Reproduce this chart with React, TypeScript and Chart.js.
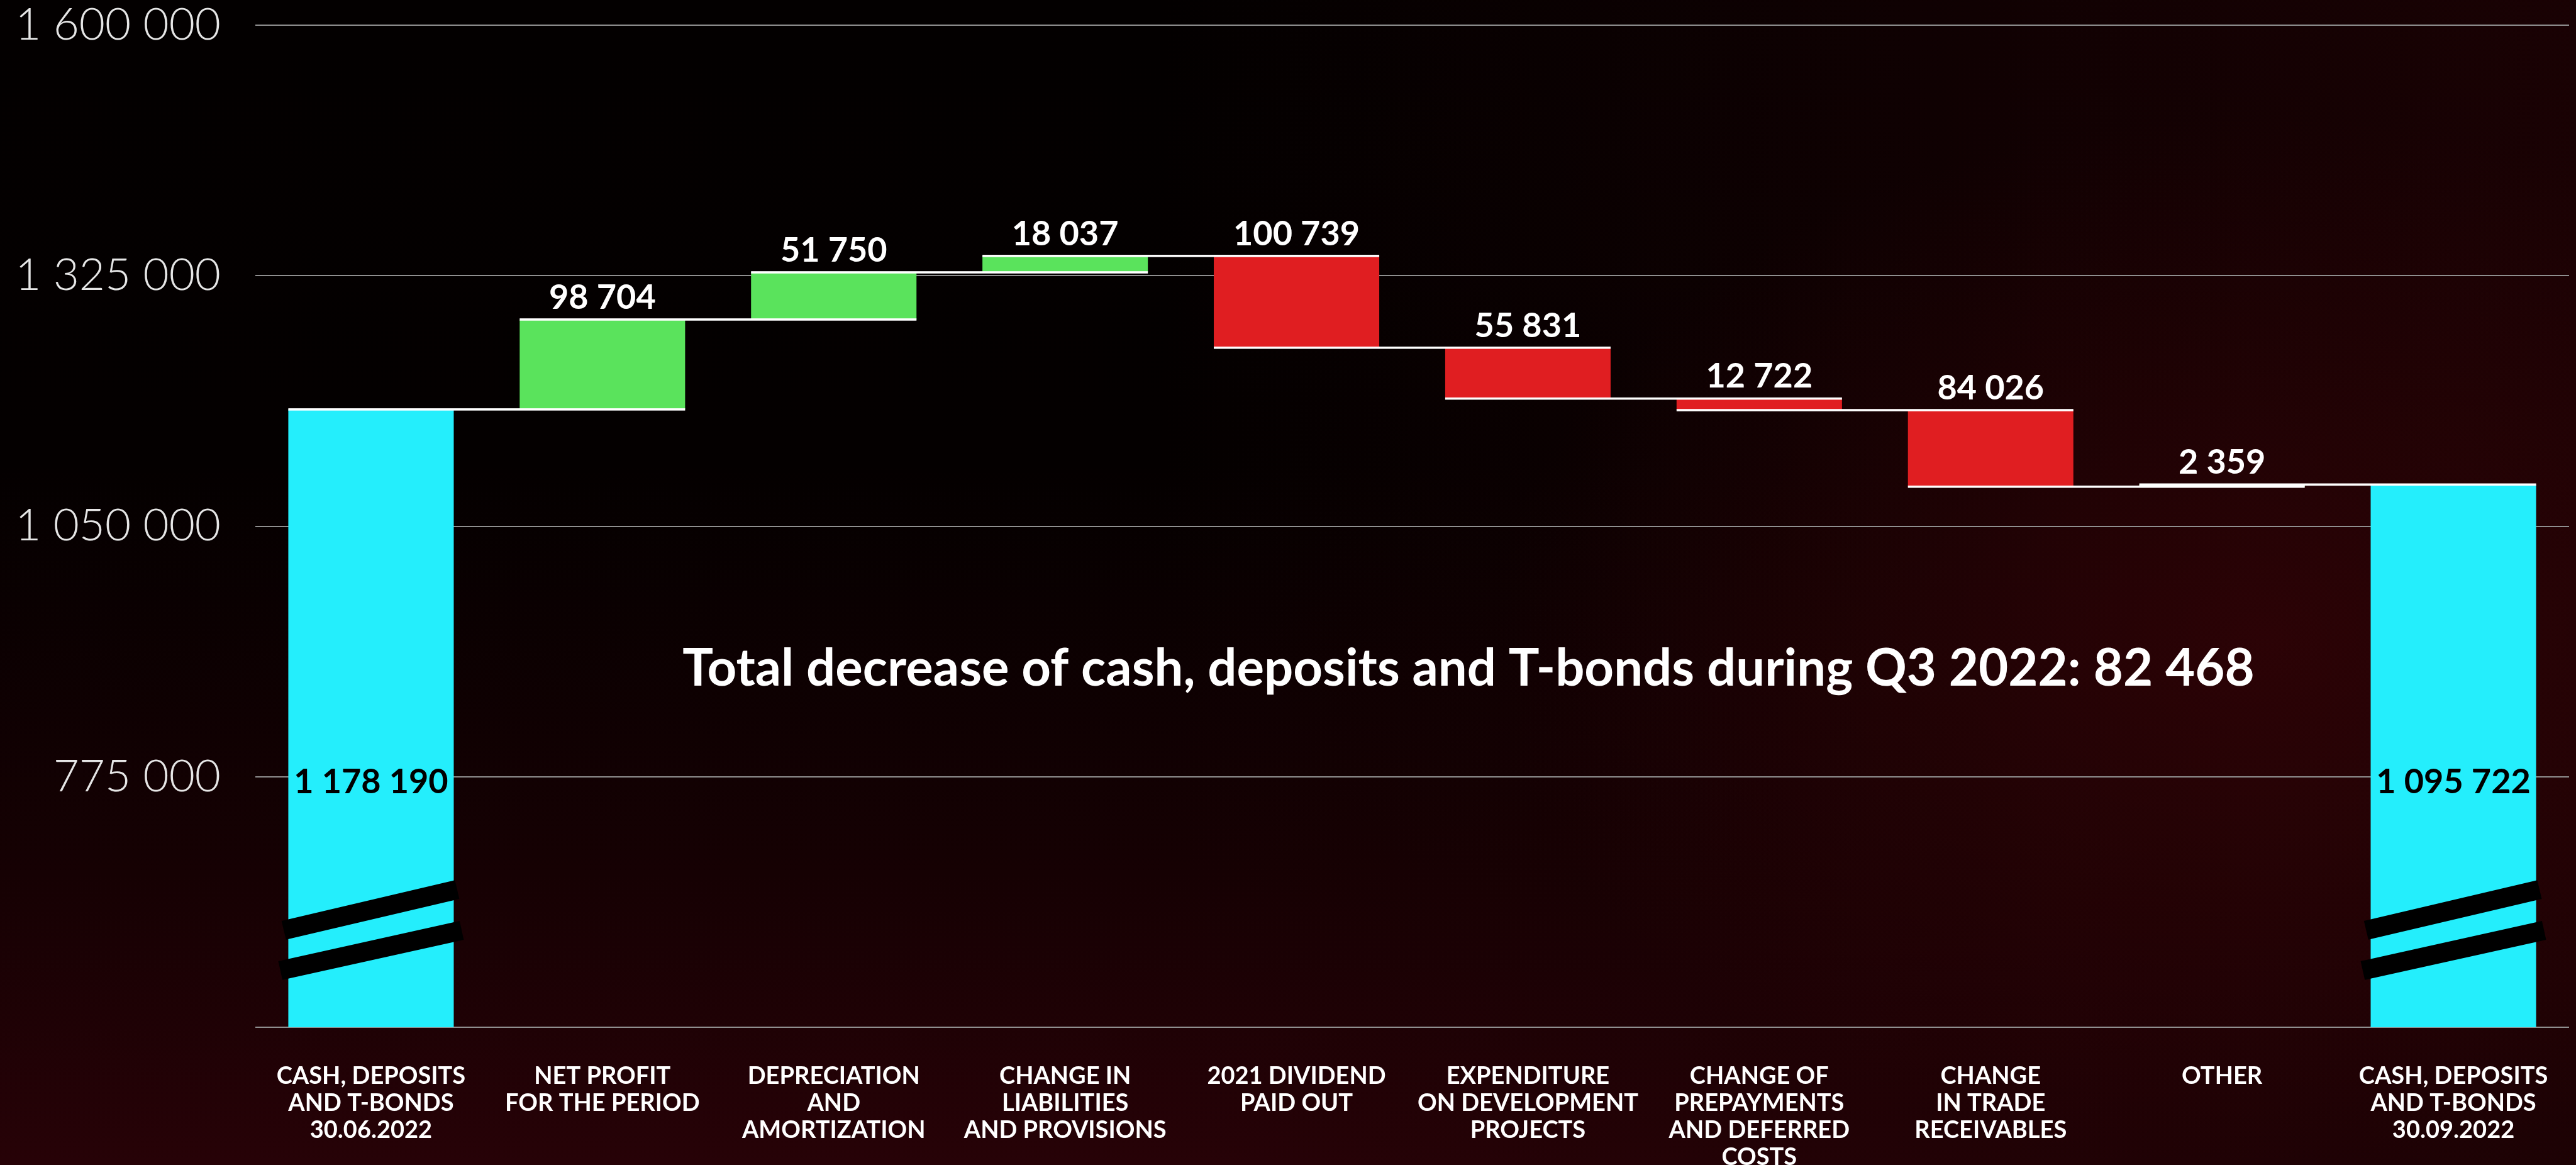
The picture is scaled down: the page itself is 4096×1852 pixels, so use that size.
import React, { useEffect, useRef } from "react";
import { Chart, registerables } from "chart.js";

Chart.register(...registerables);

// ---- data ----
const CATEGORIES: string[][] = [
  ["CASH, DEPOSITS", "AND T-BONDS", "30.06.2022"],
  ["NET PROFIT", "FOR THE PERIOD"],
  ["DEPRECIATION", "AND", "AMORTIZATION"],
  ["CHANGE IN", "LIABILITIES", "AND PROVISIONS"],
  ["2021 DIVIDEND", "PAID OUT"],
  ["EXPENDITURE", "ON DEVELOPMENT", "PROJECTS"],
  ["CHANGE OF", "PREPAYMENTS", "AND DEFERRED", "COSTS"],
  ["CHANGE", "IN TRADE", "RECEIVABLES"],
  ["OTHER"],
  ["CASH, DEPOSITS", "AND T-BONDS", "30.09.2022"],
];
const START_VALUE = 1178190;
const DELTAS = [98704, 51750, 18037, -100739, -55831, -12722, -84026, 2359];
const END_VALUE = 1095722;
const Y_MIN = 500000;
const Y_MAX = 1600000;
const Y_STEP = 275000;
const TOTAL_LABEL_AT = 757000;
const SUMMARY_TEXT = "Total decrease of cash, deposits and T-bonds during Q3 2022: 82 468";

// ---- styling ----
const S = 0.901;
const FONT = "Lato, 'Open Sans', 'Noto Sans', sans-serif";
const CYAN = "#24EEFC";
const GREEN = "#5AE35C";
const RED = "#E01E21";

const fmt = (v: number) =>
  Math.round(Math.abs(v))
    .toString()
    .replace(/\B(?=(\d{3})+(?!\d))/g, " ");

// floating bars built from the values
const levels: number[] = [START_VALUE];
DELTAS.forEach((d) => levels.push(levels[levels.length - 1] + d));
const floating: [number, number][] = [[Y_MIN, START_VALUE]];
DELTAS.forEach((d, i) => floating.push([levels[i], levels[i + 1]]));
floating.push([Y_MIN, END_VALUE]);
const colors = floating.map((_, i) =>
  i === 0 || i === floating.length - 1 ? CYAN : DELTAS[i - 1] >= 0 ? GREEN : RED
);
const labelTexts = [fmt(START_VALUE), ...DELTAS.map(fmt), fmt(END_VALUE)];
const barEnds = floating.map((f) => f[1]);

const overlay = {
  id: "waterfallOverlay",
  afterDatasetsDraw(chart: any) {
    const ctx = chart.ctx;
    const meta = chart.getDatasetMeta(0);
    const ys = chart.scales.y;
    const area = chart.chartArea;
    const els = meta.data;
    const n = els.length;
    ctx.save();
    // connector / level lines
    ctx.fillStyle = "#ffffff";
    const th = 4 * S;
    for (let i = 0; i < n - 1; i++) {
      const a = els[i];
      const b = els[i + 1];
      const y = ys.getPixelForValue(barEnds[i]);
      const x0 = a.x - a.width / 2;
      const x1 = b.x + b.width / 2;
      ctx.fillRect(x0, y - th / 2, x1 - x0, th);
    }
    // break marks on total bars
    ctx.strokeStyle = "#000000";
    ctx.lineWidth = 34 * S;
    ctx.lineCap = "butt";
    [0, n - 1].forEach((i) => {
      const el = els[i];
      const L = el.x - el.width / 2;
      const R = el.x + el.width / 2;
      const bot = area.bottom;
      ctx.beginPath();
      ctx.moveTo(L - 8 * S, bot - 171 * S);
      ctx.lineTo(R + 6 * S, bot - 243 * S);
      ctx.stroke();
      ctx.beginPath();
      ctx.moveTo(L - 14 * S, bot - 100 * S);
      ctx.lineTo(R + 14 * S, bot - 171 * S);
      ctx.stroke();
    });
    // value labels
    ctx.textAlign = "center";
    ctx.textBaseline = "alphabetic";
    ctx.font = `bold ${Math.round(60 * S)}px ${FONT}`;
    for (let i = 0; i < n; i++) {
      const el = els[i];
      if (i === 0 || i === n - 1) {
        ctx.fillStyle = "#000000";
        ctx.fillText(labelTexts[i], el.x, ys.getPixelForValue(TOTAL_LABEL_AT));
      } else {
        ctx.fillStyle = "#ffffff";
        const top = Math.min(el.y, el.base);
        ctx.fillText(labelTexts[i], el.x, top - 19 * S);
      }
    }
    // summary text
    const targetW = 2774 * S;
    let fs = 82 * S;
    ctx.font = `bold ${fs}px ${FONT}`;
    const w = ctx.measureText(SUMMARY_TEXT).width;
    fs = fs * (targetW / w);
    ctx.font = `bold ${fs}px ${FONT}`;
    ctx.fillStyle = "#ffffff";
    ctx.textAlign = "left";
    ctx.fillText(SUMMARY_TEXT, area.left + (1205 - 451) * S, area.top + (1209 - 44) * S);
    ctx.restore();
  },
};

export default function App() {
  const ref = useRef<HTMLCanvasElement | null>(null);
  useEffect(() => {
    document.body.style.margin = "0";
    document.body.style.background = "#000";
    const canvas = ref.current!;
    const chart = new Chart(canvas, {
      type: "bar",
      data: {
        labels: CATEGORIES as any,
        datasets: [
          {
            data: floating as any,
            backgroundColor: colors,
            borderWidth: 0,
            barPercentage: 0.715,
            categoryPercentage: 1,
          },
        ],
      },
      options: {
        responsive: false,
        maintainAspectRatio: false,
        animation: false,
        layout: { padding: { left: 0, right: 11, top: 40, bottom: 0 } },
        plugins: { legend: { display: false }, tooltip: { enabled: false } },
        scales: {
          x: {
            grid: { display: false },
            border: { display: false },
            ticks: {
              color: "#ffffff",
              autoSkip: false,
              maxRotation: 0,
              padding: 48,
              font: { family: FONT, size: 38, weight: "bold", lineHeight: 43 / 38 } as any,
            },
            afterFit: (s: any) => {
              s.height = 219;
              s.paddingLeft = 0;
              s.paddingRight = 0;
            },
          },
          y: {
            min: Y_MIN,
            max: Y_MAX,
            border: { display: false },
            grid: { color: "#8f8f8f", lineWidth: 2, drawTicks: false },
            ticks: {
              stepSize: Y_STEP,
              color: "#e6e6e6",
              padding: 55,
              font: { family: FONT, size: 71, weight: 300, lineHeight: 1 } as any,
              callback: (v: any) => (Number(v) === Y_MIN ? "" : fmt(Number(v))),
            },
            afterFit: (s: any) => {
              s.width = 406;
              s.paddingTop = 0;
              s.paddingBottom = 0;
            },
          },
        },
      },
      plugins: [overlay],
    });
    return () => chart.destroy();
  }, []);
  return (
    <div
      style={{
        width: 4096,
        height: 1852,
        position: "relative",
        background:
          "radial-gradient(ellipse 30% 45% at 88% 55%, rgba(60,4,8,0.55) 0%, rgba(0,0,0,0) 100%), linear-gradient(90deg, rgba(0,0,0,0) 45%, rgba(28,2,4,0.9) 100%), linear-gradient(180deg, #030000 0%, #040000 40%, #160103 75%, #270207 100%)",
      }}
    >
      <canvas ref={ref} width={4096} height={1852} style={{ width: 4096, height: 1852, display: "block" }} />
    </div>
  );
}
